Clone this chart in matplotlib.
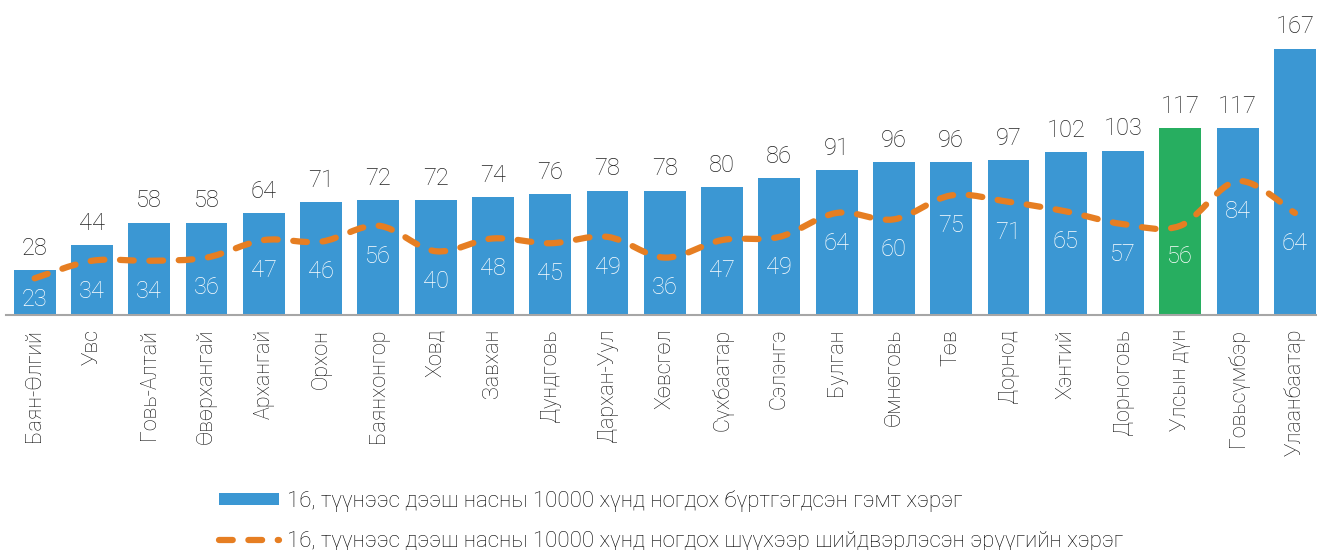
import numpy as np
import matplotlib
matplotlib.use("Agg")
import matplotlib.pyplot as plt
from matplotlib.path import Path
from matplotlib.patches import PathPatch, Patch
from matplotlib.lines import Line2D

plt.rcParams['font.family'] = ['Roboto', 'DejaVu Sans']
plt.rcParams['font.weight'] = 'light'

aimags = ['Баян-Өлгий', 'Увс', 'Говь-Алтай', 'Өвөрхангай', 'Архангай', 'Орхон',
          'Баянхонгор', 'Ховд', 'Завхан', 'Дундговь', 'Дархан-Уул', 'Хөвсгөл',
          'Сүхбаатар', 'Сэлэнгэ', 'Булган', 'Өмнөговь', 'Төв', 'Дорнод', 'Хэнтий',
          'Дорноговь', 'Улсын дүн', 'Говьсүмбэр', 'Улаанбаатар']
crimes = [28, 44, 58, 58, 64, 71, 72, 72, 74, 76, 78, 78, 80, 86, 91, 96, 96, 97,
          102, 103, 117, 117, 167]
court = [23, 34, 34, 36, 47, 46, 56, 40, 48, 45, 49, 36, 47, 49, 64, 60, 75, 71,
         65, 57, 56, 84, 64]
total_name = 'Улсын дүн'

lbl_bar = '16, түүнээс дээш насны 10000 хүнд ногдох бүртгэгдсэн гэмт хэрэг'
lbl_line = '16, түүнээс дээш насны 10000 хүнд ногдох шүүхээр шийдвэрлэсэн эрүүгийн хэрэг'

blue = '#3B97D3'
green = '#27AE60'
orange = '#E67E22'
dash = (0, (2.2, 2.5))

W, H = 1317, 550
fig = plt.figure(figsize=(W / 100, H / 100), dpi=100)
ax = fig.add_axes([6 / W, (H - 315) / H, (W - 6) / W, 287 / H])

x = np.arange(len(aimags))
colors = [green if a == total_name else blue for a in aimags]
ax.bar(x, crimes, width=0.73, color=colors, zorder=2)

# smoothed line (catmull-rom style bezier, like excel "smoothed line")
pts = np.column_stack([x, court]).astype(float)
verts = [tuple(pts[0])]
codes = [Path.MOVETO]
n = len(pts)
for i in range(n - 1):
    p0 = pts[max(i - 1, 0)]
    p1 = pts[i]
    p2 = pts[i + 1]
    p3 = pts[min(i + 2, n - 1)]
    c1 = p1 + (p2 - p0) / 6
    c2 = p2 - (p3 - p1) / 6
    verts += [tuple(c1), tuple(c2), tuple(p2)]
    codes += [Path.CURVE4] * 3
patch = PathPatch(Path(verts, codes), fill=False, edgecolor=orange, lw=4.5,
                  linestyle=dash, capstyle='round', zorder=3)
ax.add_patch(patch)

for xi, v in zip(x, crimes):
    ax.annotate(str(v), (xi, v), xytext=(0, 11), textcoords='offset points',
                ha='center', va='baseline', fontsize=17, color='#222222')
for xi, v in zip(x, court):
    ax.text(xi, max(v - 19, 9.5), str(v), ha='center', va='center',
            fontsize=17, color='white', zorder=4)

ax.set_xlim(-0.5, 22.385)
ax.set_ylim(0, 180)
ax.set_yticks([])
ax.set_xticks(x)
ax.set_xticklabels(aimags, rotation=90, fontsize=15.5, color='#111111')
ax.tick_params(axis='x', length=0, pad=10)
for s in ['top', 'right', 'left']:
    ax.spines[s].set_visible(False)
ax.spines['bottom'].set_color('#A6A6A6')
ax.spines['bottom'].set_linewidth(1.5)

handles = [Patch(facecolor=blue, edgecolor='none'),
           Line2D([], [], color=orange, lw=4.5, linestyle=dash,
                  dash_capstyle='round')]
leg = fig.legend(handles, [lbl_bar, lbl_line], loc='upper left',
                 bbox_to_anchor=(199 / W, 1 - 470 / H), frameon=False,
                 fontsize=16, handlelength=2.7, handleheight=0.5,
                 handletextpad=0.35, labelspacing=0.86)

fig.savefig('out.png', dpi=100)
